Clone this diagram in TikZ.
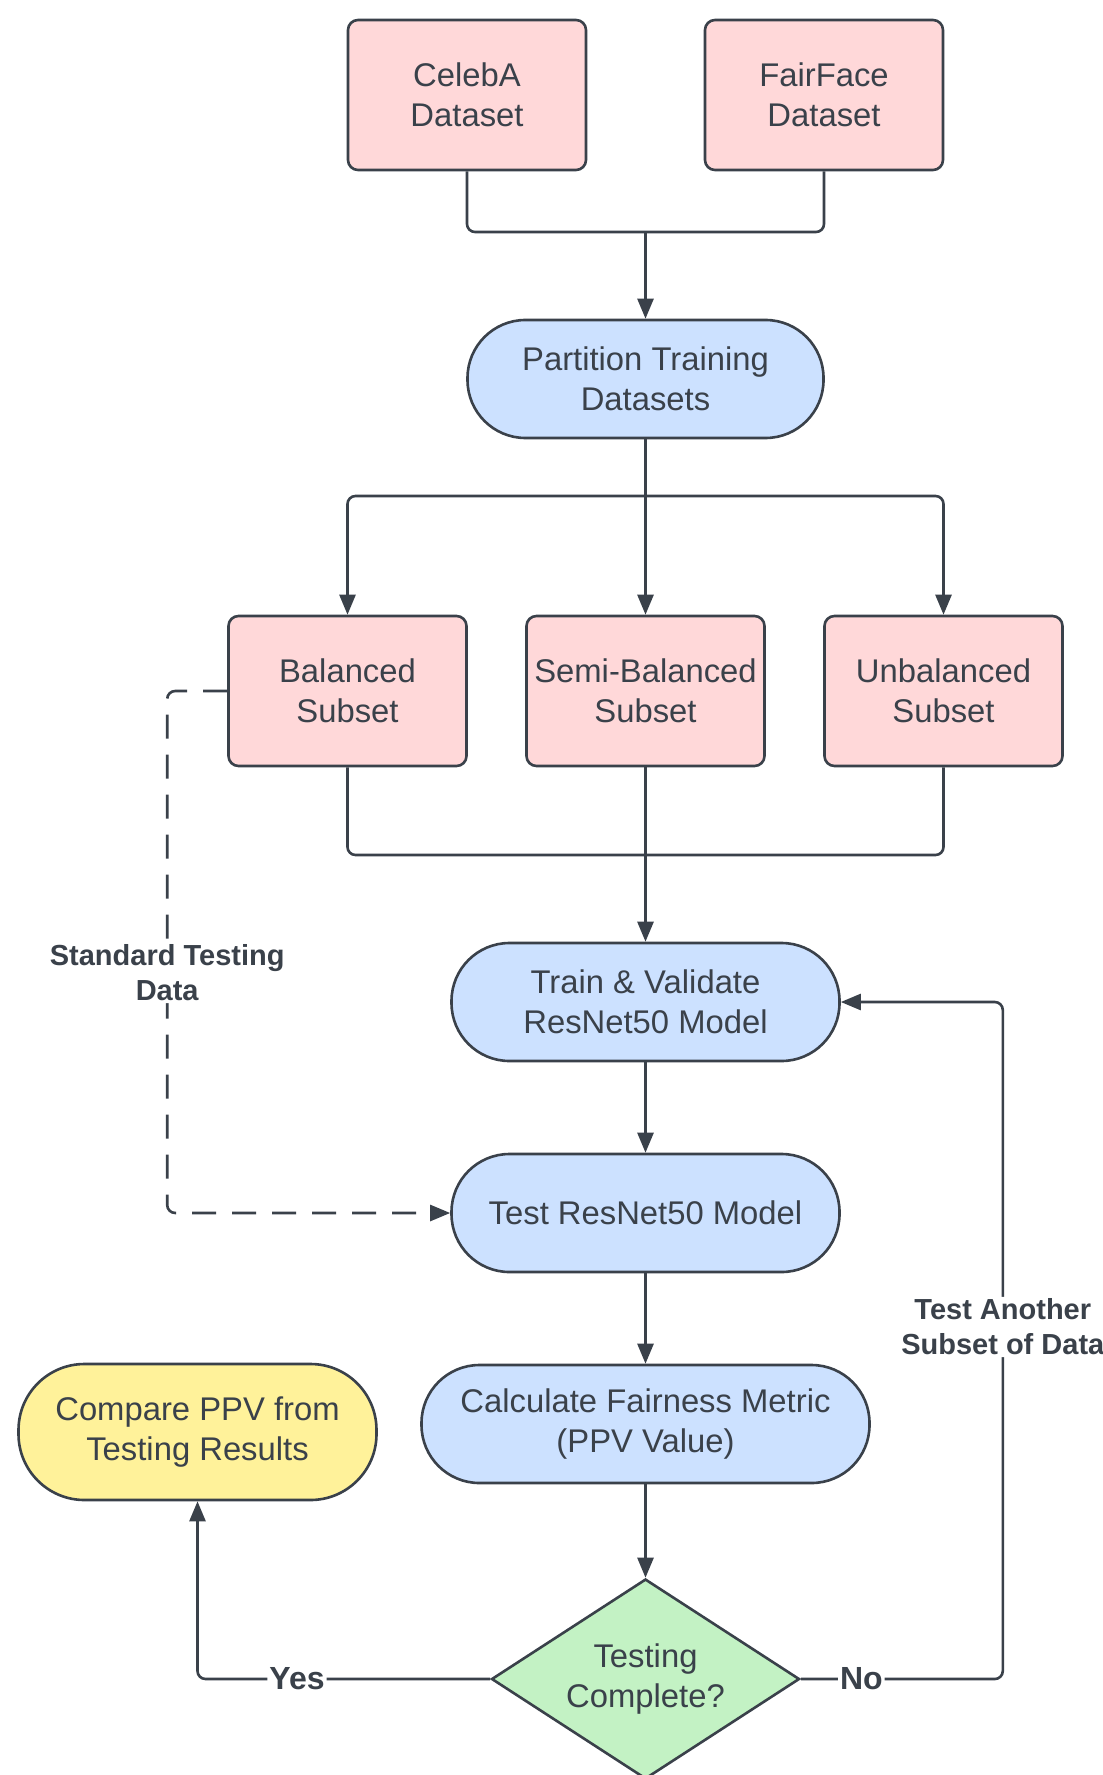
\documentclass[tikz,border=0pt]{standalone}
\usepackage{fontspec}
\setmainfont{Liberation Sans}
\usepackage{tikz}
\usetikzlibrary{shapes.geometric,arrows.meta}
\definecolor{ink}{HTML}{3A414A}
\definecolor{pinkfill}{HTML}{FFD8D9}
\definecolor{bluefill}{HTML}{CCE1FF}
\definecolor{yellowfill}{HTML}{FFF29A}
\definecolor{greenfill}{HTML}{C3F2C4}

\begin{document}
\begin{tikzpicture}[x=0.5pt,y=-0.5pt,
        every node/.style={text=ink,align=center,font=\fontsize{16.4}{19.8}\selectfont},
        databox/.style={draw=ink,line width=1.3pt,fill=pinkfill,rounded corners=5pt,
            minimum width=119pt,minimum height=75pt},
        procbox/.style={draw=ink,line width=1.3pt,fill=bluefill,rounded corners=29pt,
            minimum height=59pt},
        endbox/.style={draw=ink,line width=1.3pt,fill=yellowfill,rounded corners=33pt,
            minimum width=179pt,minimum height=68pt},
        decision/.style={draw=ink,line width=1.3pt,fill=greenfill,diamond,aspect=1.54,
            inner sep=0pt,minimum width=154pt,minimum height=100pt},
        link/.style={draw=ink,line width=1.3pt,rounded corners=4pt},
        flow/.style={link,-{Triangle[length=10pt,width=8pt]}},
        lbl/.style={fill=white,inner sep=1pt,font=\bfseries\fontsize{14.5}{17.5}\selectfont},
        answer/.style={fill=white,inner sep=1pt,font=\bfseries\fontsize{16}{19}\selectfont}]
        \useasboundingbox[fill=white] (0,0) rectangle (1102,1775);

        \node[databox] (celeba) at (467,95) {CelebA\\Dataset};
        \node[databox] (fairface) at (824,95) {FairFace\\Dataset};
        \node[procbox,minimum width=178pt] (partition) at (645.5,379) {Partition Training\\Datasets};
        \node[databox] (balanced) at (347.5,691) {Balanced\\Subset};
        \node[databox] (semi) at (645.5,691) {Semi-Balanced\\Subset};
        \node[databox] (unbalanced) at (943.5,691) {Unbalanced\\Subset};
        \node[procbox,minimum width=194pt] (train) at (645.5,1002) {Train \& Validate\\ResNet50 Model};
        \node[procbox,minimum width=194pt] (test) at (645.5,1213) {Test ResNet50 Model};
        \node[procbox,minimum width=224pt] (calc) at (645.5,1424) {Calculate Fairness Metric\\(PPV Value)};
        \node[endbox] (compare) at (197.5,1432) {Compare PPV from\\Testing Results};
        \node[decision] (check) at (645.5,1679) {Testing\\Complete?};

        \coordinate (j1) at (645.5,232);
        \coordinate (j2) at (645.5,496);
        \coordinate (j3) at (645.5,855);

        \draw[link] (celeba.south) |- (j1) -| (fairface.south);
        \draw[flow] (j1) -- (partition.north);
        \draw[link] (partition.south) -- (j2);
        \draw[flow] (j2) -| (balanced.north);
        \draw[flow] (j2) -- (semi.north);
        \draw[flow] (j2) -| (unbalanced.north);
        \draw[link] (balanced.south) |- (j3) -| (unbalanced.south);
        \draw[link] (semi.south) -- (j3);
        \draw[flow] (j3) -- (train.north);
        \draw[flow] (train) -- (test);
        \draw[flow] (test) -- (calc);
        \draw[flow] (calc) -- (check);
        \draw[flow,dash pattern=on 12pt off 8pt] (balanced.west) -- ++(-60,0)
            |- node[lbl,pos=0.27] {Standard Testing\\Data} (test.west);
        \draw[flow] (check.west) -| node[answer,pos=0.33] {Yes} (compare.south);
        \draw[flow] (check.east) -- node[answer,pos=0.3] {No} ++(202,0)
            |- node[lbl,pos=0.26] {Test Another\\Subset of Data} (train.east);
    \end{tikzpicture}
\end{document}
